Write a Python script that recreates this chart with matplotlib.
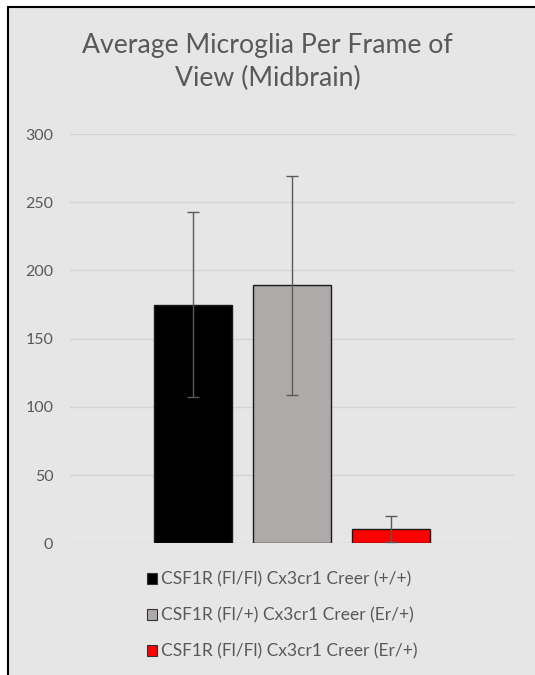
import matplotlib
matplotlib.use("Agg")
import matplotlib.pyplot as plt
from matplotlib.patches import Rectangle
import numpy as np

labels = ["CSF1R (Fl/Fl) Cx3cr1 Creer (+/+)",
          "CSF1R (Fl/+) Cx3cr1 Creer (Er/+)",
          "CSF1R (Fl/Fl) Cx3cr1 Creer (Er/+)"]
values = [175, 189, 10.5]
errors = [68, 80, 9.7]
yticks = [0, 50, 100, 150, 200, 250, 300]
colors = ["#000000", "#aeaaaa", "#ff0000"]
title = "Average Microglia Per Frame of\nView (Midbrain)"

plt.rcParams['font.family'] = ['Lato', 'DejaVu Sans']

W, H = 535, 675
fig = plt.figure(figsize=(W/100, H/100), dpi=100, facecolor="white")
bg = "#e6e6e6"
fig.patches.append(Rectangle((7.5/W, -0.05), 1.2, 1 - 6.5/H + 0.05,
                             transform=fig.transFigure, facecolor=bg,
                             edgecolor="black", linewidth=1.5, zorder=-10))

ax = fig.add_axes([70/W, 1 - 543.3/H, 445/W, (543.3-134)/H])
ax.set_facecolor(bg)
ax.patch.set_alpha(0)
x = np.arange(len(values))
bars = ax.bar(x, values, width=0.78, color=colors, edgecolor="#1a1a1a",
              linewidth=1.0, zorder=3)
ax.errorbar(x, values, yerr=errors, fmt="none", ecolor="#595959",
            elinewidth=1.0, capsize=4, capthick=1.0, zorder=4)
ax.set_xlim(-1.242, 3.253)
ax.set_ylim(0, 300)
ax.set_yticks(yticks)
ax.set_xticks([])
ax.grid(axis="y", color="#d4d4d4", linewidth=1.0, zorder=0)
for s in ax.spines.values():
    s.set_visible(False)
ax.tick_params(axis="y", length=0, pad=12, labelsize=11.5, labelcolor="#595959")

fig.text(267.5/W, 1 - 62/H, title, ha="center", va="center", fontsize=19.2,
         color="#595959", linespacing=1.4)

handles = [Rectangle((0, 0), 1, 1, facecolor=c, edgecolor="#333333", linewidth=0.8)
           for c in colors]
fig.legend(handles, labels, loc="upper left", bbox_to_anchor=(138/W, 1 - 563/H),
           frameon=False, fontsize=12.5, labelcolor="#595959",
           handlelength=0.6, handleheight=0.6, handletextpad=0.25,
           labelspacing=1.13, borderpad=0)

fig.savefig("out.png", dpi=100, facecolor="white")
